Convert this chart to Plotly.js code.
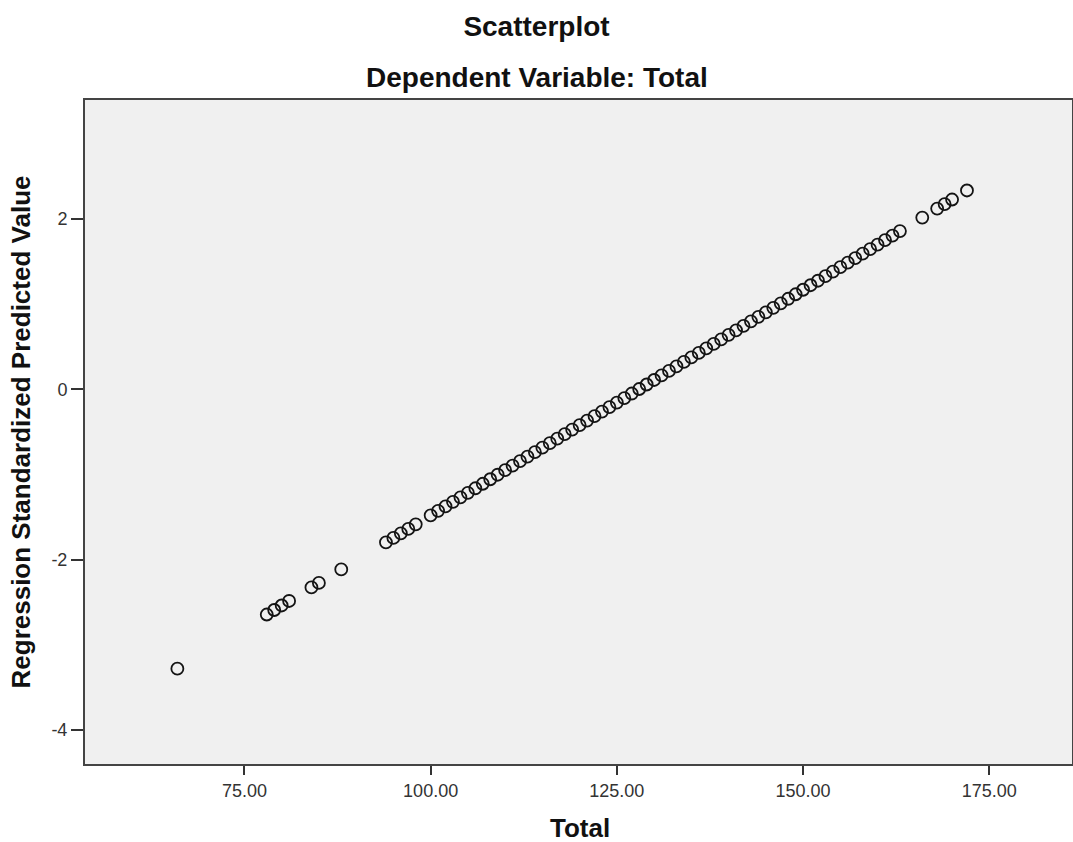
<!DOCTYPE html>
<html>
<head>
<meta charset="utf-8">
<script src="https://cdn.plot.ly/plotly-3.0.1.min.js"></script>
<style>
html,body{margin:0;padding:0;background:#fff;}
#chart{width:1073px;height:842px;}
</style>
</head>
<body>
<div id="chart"></div>
<script>
// Total (x) values
var total = [66, 78, 79, 80, 81, 84, 85, 88, 94, 95, 96, 97, 98,
  100, 101, 102, 103, 104, 105, 106, 107, 108, 109, 110, 111, 112, 113, 114, 115,
  116, 117, 118, 119, 120, 121, 122, 123, 124, 125, 126, 127, 128, 129, 130, 131,
  132, 133, 134, 135, 136, 137, 138, 139, 140, 141, 142, 143, 144, 145, 146, 147,
  148, 149, 150, 151, 152, 153, 154, 155, 156, 157, 158, 159, 160, 161, 162, 163,
  166, 168, 169, 170, 172];
// Regression Standardized Predicted Value (y)
var zpred = [-3.280, -2.644, -2.591, -2.538, -2.485, -2.326, -2.273, -2.114, -1.796, -1.744, -1.690, -1.638, -1.585,
  -1.479, -1.426, -1.373, -1.320, -1.267, -1.214, -1.161, -1.108, -1.055, -1.002, -0.949, -0.896, -0.843, -0.790, -0.737, -0.684,
  -0.631, -0.578, -0.525, -0.472, -0.419, -0.366, -0.313, -0.260, -0.207, -0.154, -0.101, -0.048, 0.005, 0.058, 0.111, 0.164,
  0.217, 0.270, 0.323, 0.376, 0.429, 0.482, 0.535, 0.588, 0.641, 0.694, 0.747, 0.800, 0.853, 0.906, 0.959, 1.012,
  1.065, 1.118, 1.171, 1.224, 1.277, 1.330, 1.383, 1.436, 1.489, 1.542, 1.595, 1.648, 1.701, 1.754, 1.807, 1.860,
  2.019, 2.125, 2.178, 2.231, 2.337];
var xTickVals = [75, 100, 125, 150, 175];
var xTickText = ["75.00", "100.00", "125.00", "150.00", "175.00"];
var yTickVals = [-4, -2, 0, 2];
var yTickText = ["-4", "-2", "0", "2"];

var FONT = "Liberation Sans, Arial, sans-serif";

var trace = {
  x: total,
  y: zpred,
  type: "scatter",
  mode: "markers",
  marker: {symbol: "circle-open", size: 12, color: "#141414", line: {width: 1.8, color: "#141414"}},
  hoverinfo: "x+y"
};

var layout = {
  width: 1073,
  height: 842,
  margin: {l: 85, r: 1, t: 100, b: 78},
  paper_bgcolor: "#ffffff",
  plot_bgcolor: "#f0f0f0",
  font: {family: FONT, color: "#222"},
  showlegend: false,
  title: {
    text: "<b>Scatterplot</b>",
    font: {family: FONT, size: 28, color: "#111"},
    x: 0.5, xanchor: "center",
    y: 1 - 26 / 842, yanchor: "middle",
    yref: "container"
  },
  annotations: [{
    text: "<b>Dependent Variable: Total</b>",
    xref: "paper", yref: "paper",
    x: (536.5 - 85) / 987, xanchor: "center",
    y: (764 - 77) / 664, yanchor: "middle",
    showarrow: false,
    font: {family: FONT, size: 28, color: "#111"}
  }, {
    text: "<b>Total</b>",
    xref: "paper", yref: "paper",
    x: (580 - 85) / 987, xanchor: "center",
    y: (764 - 828) / 664, yanchor: "middle",
    showarrow: false,
    font: {family: FONT, size: 26, color: "#111"}
  }],
  xaxis: {
    range: [53.6, 186.1],
    tickvals: xTickVals,
    ticktext: xTickText,
    ticks: "outside",
    ticklen: 9,
    tickwidth: 2,
    tickcolor: "#333",
    tickfont: {family: FONT, size: 18, color: "#333"},
    showgrid: false,
    zeroline: false,
    showline: true,
    linecolor: "#444",
    linewidth: 2,
    mirror: true
  },
  yaxis: {
    range: [-4.4, 3.4],
    tickvals: yTickVals,
    ticktext: yTickText,
    ticks: "outside",
    ticklen: 12,
    tickwidth: 2,
    tickcolor: "#333",
    tickfont: {family: FONT, size: 18, color: "#333"},
    showgrid: false,
    zeroline: false,
    showline: true,
    linecolor: "#444",
    linewidth: 2,
    mirror: true,
    title: {text: "<b>Regression Standardized Predicted Value</b>", font: {family: FONT, size: 26, color: "#111"}, standoff: 13}
  }
};

Plotly.newPlot("chart", [trace], layout, {displayModeBar: false, staticPlot: true});
</script>
</body>
</html>
